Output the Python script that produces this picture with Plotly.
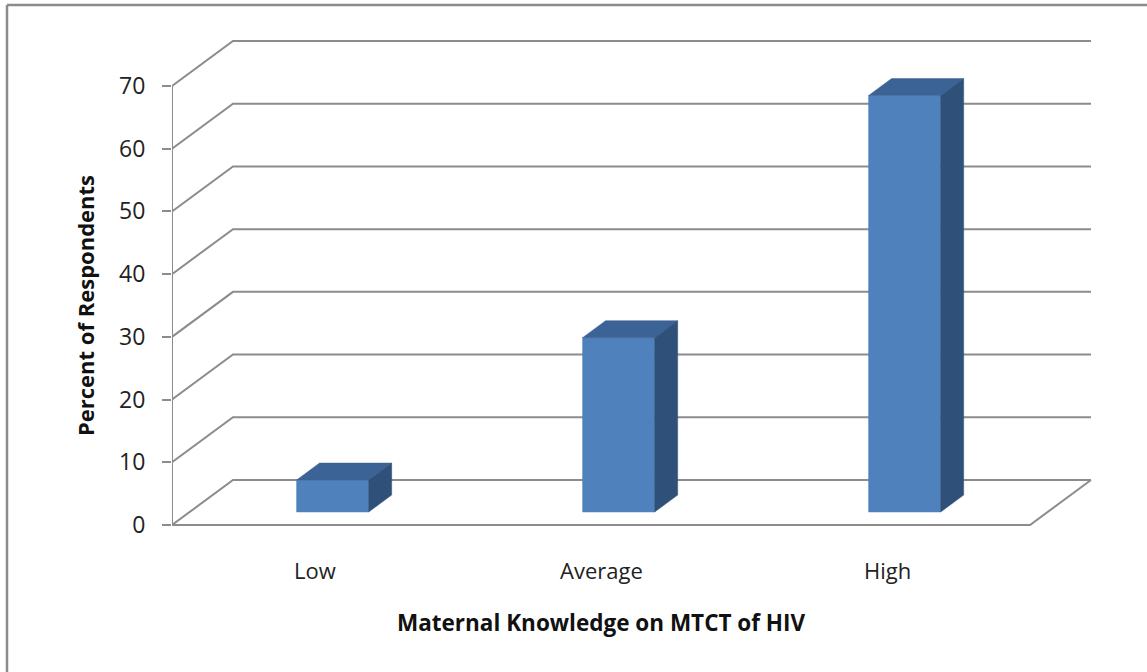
import plotly.graph_objects as go

# ---- data ----
categories = ["Low", "Average", "High"]
percent = [5.1, 27.8, 66.4]
y_ticks = [0, 10, 20, 30, 40, 50, 60, 70]
x_title = "Maternal Knowledge on MTCT of HIV"
y_title = "Percent of Respondents"

# ---- 3D projection parameters (in axis units) ----
DX = 0.2133      # depth shift along x for full depth
DY = 7.175       # depth shift along y for full depth
F0, F1 = 0.289, 0.666   # bar depth start/end fraction
BW = 0.252       # bar width (category units)
NCAT = len(categories)

GRID = "#8c8c8c"
FRONT = "#4f81bd"
TOP = "#3b6395"
SIDE = "#2f5179"

fig = go.Figure()

def line(xs, ys, color=GRID, width=2):
    fig.add_trace(go.Scatter(x=xs, y=ys, mode="lines",
                             line=dict(color=color, width=width),
                             hoverinfo="skip", showlegend=False))

def poly(xs, ys, color):
    fig.add_trace(go.Scatter(x=xs + [xs[0]], y=ys + [ys[0]], mode="lines",
                             fill="toself", fillcolor=color,
                             line=dict(color=color, width=0.5),
                             hoverinfo="skip", showlegend=False))

# back wall gridlines + left wall diagonals
for v in y_ticks:
    line([0, DX, NCAT + DX], [v, v + DY, v + DY])
# front value axis line
line([0, 0], [y_ticks[0], y_ticks[-1]])
# floor front edge and right edge
line([0, NCAT, NCAT + DX], [0, 0, DY])

# bars
d = F1 - F0
for i, v in enumerate(percent):
    x0 = i + 0.5 - BW / 2 + F0 * DX
    x1 = x0 + BW
    y0 = F0 * DY
    y1 = y0 + v
    poly([x0, x1, x1, x0], [y0, y0, y1, y1], FRONT)
    poly([x0, x1, x1 + d * DX, x0 + d * DX], [y1, y1, y1 + d * DY, y1 + d * DY], TOP)
    poly([x1, x1 + d * DX, x1 + d * DX, x1], [y0, y0 + d * DY, y1 + d * DY, y1], SIDE)

W, H = 1147, 672
ML, MR, MT, MB = 172, 20, 20, 22
PXU = 286.0
PYU = 439 / 70.0
xmax = (W - ML - MR) / PXU
ytop = (525 - MT) / PYU
ybot = -((H - MB) - 525) / PYU
pw = W - ML - MR
ph = H - MT - MB

FONT = "Open Sans"
# category labels
for i, c in enumerate(categories):
    fig.add_annotation(x=i + 0.5, y=-7.2, text=c, showarrow=False,
                       font=dict(family=FONT, size=22, color="#222222"),
                       xanchor="center", yanchor="middle")
# axis titles
fig.add_annotation(x=NCAT / 2, y=-15.5, text="<b>" + x_title + "</b>", showarrow=False,
                   font=dict(family=FONT, size=22.5, color="#111111"),
                   xanchor="center", yanchor="middle")
fig.add_annotation(xref="paper", yref="paper",
                   x=(85 - ML) / pw, y=((H - MB) - 306) / ph,
                   text="<b>" + y_title + "</b>", showarrow=False,
                   textangle=-90,
                   font=dict(family=FONT, size=22, color="#111111"),
                   xanchor="center", yanchor="middle")

fig.update_layout(
    width=W, height=H,
    margin=dict(l=ML, r=MR, t=MT, b=MB),
    paper_bgcolor="white", plot_bgcolor="white",
    xaxis=dict(range=[0, xmax], visible=False, fixedrange=True),
    yaxis=dict(range=[ybot, ytop], tickmode="array", tickvals=y_ticks,
               ticktext=[str(t) for t in y_ticks],
               showgrid=False, zeroline=False, showline=False,
               ticks="outside", ticklen=9, tickwidth=2, tickcolor=GRID,
               ticklabelstandoff=12,
               tickfont=dict(family=FONT, size=23, color="#222222"),
               fixedrange=True),
    showlegend=False,
)

# chart border (top and left edges visible)
bx = (7 - ML) / pw
by = ((H - MB) - 5) / ph
fig.add_shape(type="line", xref="paper", yref="paper", x0=bx, x1=(W - ML) / pw + 0.01,
              y0=by, y1=by, line=dict(color="#8c8c8c", width=2.5))
fig.add_shape(type="line", xref="paper", yref="paper", x0=bx, x1=bx,
              y0=by, y1=-(MB + 5) / ph, line=dict(color="#8c8c8c", width=2.5))

fig.write_html("out.html", config={"displayModeBar": False},
               post_script="document.body.style.margin='0';document.body.style.overflow='hidden';")
